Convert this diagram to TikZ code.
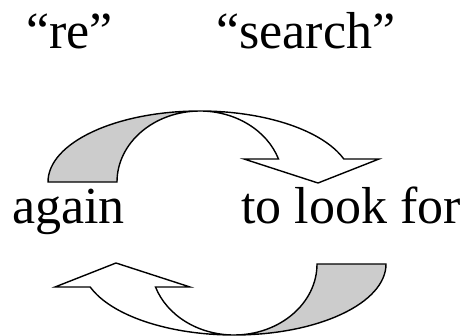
\documentclass[tikz,border=0pt]{standalone}
\usepackage{fontspec}
\setmainfont{Liberation Serif}
\begin{document}
\begin{tikzpicture}[x=1pt,y=1pt,
  band/.style={draw=black,line width=1.4pt,line join=miter},
  backside/.style={band,fill=black!20},
  frontside/.style={band,fill=white},
  word/.style={anchor=base west,inner sep=0pt,font=\fontsize{52}{60}\selectfont}]
\useasboundingbox (0,0) rectangle (473,335);
% top curved arrow
\path[backside] (48,153) arc[start angle=180,end angle=90,x radius=152,y radius=71]
  arc[start angle=90,end angle=180,x radius=83,y radius=71] -- cycle;
\path[frontside] (200,224) arc[start angle=90,end angle=18.9,x radius=152,y radius=71]
  -- (379,176) -- (318,152) -- (244,176) -- (278.5,176)
  arc[start angle=18.9,end angle=90,x radius=83,y radius=71] -- cycle;
% bottom curved arrow (same shape turned half round)
\begin{scope}[rotate around={180:(217,112)}]
\path[backside] (48,153) arc[start angle=180,end angle=90,x radius=152,y radius=71]
  arc[start angle=90,end angle=180,x radius=83,y radius=71] -- cycle;
\path[frontside] (200,224) arc[start angle=90,end angle=18.9,x radius=152,y radius=71]
  -- (379,176) -- (318,152) -- (244,176) -- (278.5,176)
  arc[start angle=18.9,end angle=90,x radius=83,y radius=71] -- cycle;
\end{scope}
% texts
\node[word] (re) at (26,286) {“re”};
\node[word] (search) at (216,286) {“search”};
\node[word] (again) at (12,112) {again};
\node[word] (look) at (241,112) {to look for};
\end{tikzpicture}
\end{document}
